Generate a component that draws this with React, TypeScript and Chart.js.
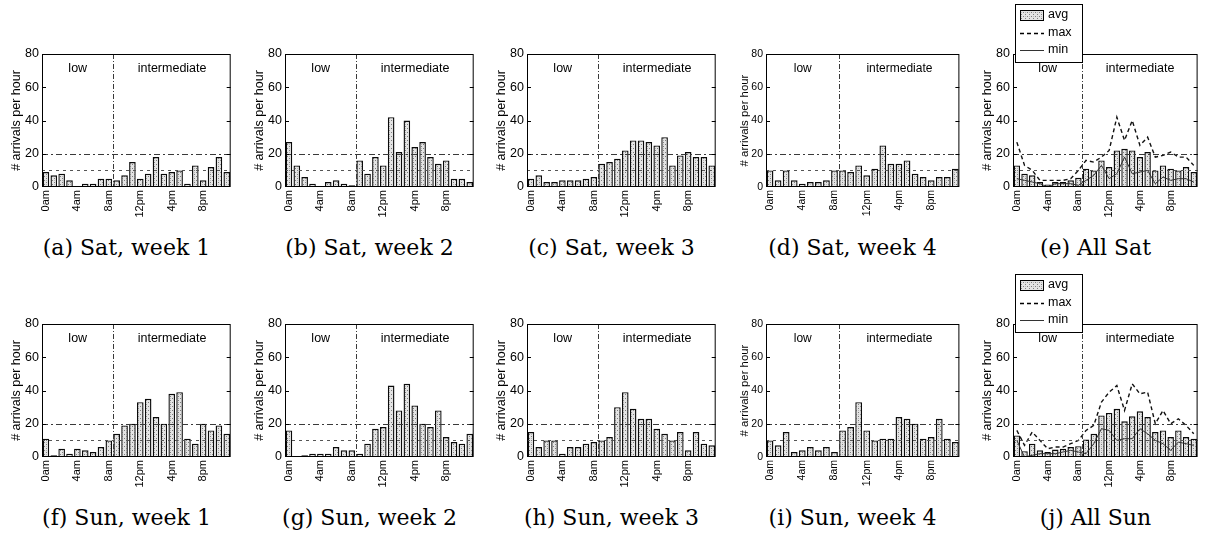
import React, { useEffect, useRef } from 'react';
import { Chart, registerables } from 'chart.js';

Chart.register(...registerables);

// Hour-of-day categories; only every fourth one is labelled on the axis.
const hourLabels = [
  '0am', '1am', '2am', '3am', '4am', '5am', '6am', '7am', '8am', '9am', '10am', '11am',
  '12pm', '1pm', '2pm', '3pm', '4pm', '5pm', '6pm', '7pm', '8pm', '9pm', '10pm', '11pm',
];
const yMax = 80;
const yStep = 20;
const lowThreshold = 10;
const midThreshold = 20;
const lowRegimeHours = 9; // 0am .. 8am belong to the "low" regime
const regimeNames = ['low', 'intermediate'];
const axisTitle = '# arrivals per hour';

// Saturday arrivals per hour, weeks 1-4
const satWeek1 = [9, 7, 8, 4, 0, 2, 2, 5, 5, 4, 7, 15, 5, 8, 18, 8, 9, 10, 2, 13, 4, 12, 18, 9];
const satWeek2 = [27, 13, 6, 2, 0, 3, 4, 2, 1, 16, 8, 18, 13, 42, 21, 40, 24, 27, 18, 14, 16, 5, 5, 3];
const satWeek3 = [5, 7, 3, 3, 4, 4, 4, 5, 6, 14, 15, 17, 22, 28, 28, 27, 25, 30, 13, 19, 21, 18, 18, 13];
const satWeek4 = [10, 4, 10, 4, 2, 3, 3, 4, 10, 10, 9, 13, 7, 11, 25, 14, 14, 16, 8, 6, 4, 6, 6, 11];
// All Saturdays: average bars, max and min curves
const satAvg = [13, 8, 7, 3, 1.5, 3, 3, 4, 5.5, 11, 10, 16, 12, 22, 23, 22, 18, 21, 10, 13, 11, 10, 12, 9];
const satMax = [27, 13, 10, 4, 4, 4, 4, 5, 10, 16, 15, 18, 22, 42, 28, 40, 25, 30, 18, 19, 21, 18, 18, 13];
const satMin = [5, 4, 3, 2, 0, 2, 2, 2, 1, 4, 7, 13, 5, 8, 18, 8, 9, 10, 2, 6, 4, 5, 5, 3];

// Sunday arrivals per hour, weeks 1-4
const sunWeek1 = [11, 1, 5, 2, 5, 4, 3, 6, 10, 14, 19, 20, 33, 35, 24, 20, 38, 39, 11, 8, 20, 16, 19, 14];
const sunWeek2 = [16, 0, 1, 2, 2, 2, 6, 4, 4, 2, 8, 17, 18, 43, 28, 44, 31, 20, 18, 28, 12, 9, 8, 14];
const sunWeek3 = [15, 6, 10, 10, 2, 6, 6, 8, 9, 10, 12, 30, 39, 29, 23, 23, 17, 14, 10, 15, 4, 15, 8, 7];
const sunWeek4 = [10, 7, 15, 3, 4, 6, 4, 6, 3, 16, 18, 33, 16, 10, 11, 11, 24, 23, 20, 11, 12, 23, 11, 9];
// All Sundays: average bars, max and min curves
const sunAvg = [13, 3.5, 8, 4, 3, 4.5, 5, 6, 6.5, 10.5, 14, 25, 26.5, 29, 21.5, 24.5, 27.5, 24, 15, 16, 12, 16, 12, 11];
const sunMax = [16, 7, 15, 10, 5, 6, 6, 8, 10, 16, 19, 33, 39, 43, 28, 44, 38, 39, 20, 28, 20, 23, 19, 14];
const sunMin = [10, 0, 1, 2, 2, 2, 3, 4, 3, 2, 8, 17, 16, 10, 11, 11, 17, 14, 10, 8, 4, 9, 8, 7];

const legendNames = ['avg', 'max', 'min'];

const SANS = "'Liberation Sans', Arial, Helvetica, sans-serif";
const SERIF = "'DejaVu Serif', 'Liberation Serif', serif";

type PanelDef = {
  caption: string;
  row: number;
  axisX: number;
  plotW: number;
  compact?: boolean;
  bars: number[];
  max?: number[];
  min?: number[];
};

const rowTop = [0, 270];
const CANVAS_H = 235;
const PAD_TOP = 54;
const X_AXIS_H = 48;
const Y_AXIS_W = 42;

const panels: PanelDef[] = [
  { caption: '(a) Sat, week 1', row: 0, axisX: 42, plotW: 199, bars: satWeek1 },
  { caption: '(b) Sat, week 2', row: 0, axisX: 285, plotW: 199, bars: satWeek2 },
  { caption: '(c) Sat, week 3', row: 0, axisX: 527, plotW: 199, bars: satWeek3 },
  { caption: '(d) Sat, week 4', row: 0, axisX: 766, plotW: 203, compact: true, bars: satWeek4 },
  { caption: '(e) All Sat', row: 0, axisX: 1013, plotW: 195, bars: satAvg, max: satMax, min: satMin },
  { caption: '(f) Sun, week 1', row: 1, axisX: 42, plotW: 199, bars: sunWeek1 },
  { caption: '(g) Sun, week 2', row: 1, axisX: 285, plotW: 199, bars: sunWeek2 },
  { caption: '(h) Sun, week 3', row: 1, axisX: 527, plotW: 199, bars: sunWeek3 },
  { caption: '(i) Sun, week 4', row: 1, axisX: 766, plotW: 203, compact: true, bars: sunWeek4 },
  { caption: '(j) All Sun', row: 1, axisX: 1013, plotW: 195, bars: sunAvg, max: sunMax, min: sunMin },
];

// Light grey stippled fill used for the bars
function stipple(): CanvasPattern | string {
  const c = document.createElement('canvas');
  c.width = 4;
  c.height = 4;
  const g = c.getContext('2d');
  if (!g) return '#d8d8d8';
  g.fillStyle = '#e4e4e4';
  g.fillRect(0, 0, 4, 4);
  g.fillStyle = '#7e7e7e';
  g.fillRect(0, 0, 1, 1);
  g.fillRect(2, 2, 1, 1);
  g.fillStyle = '#b8b8b8';
  g.fillRect(2, 0, 1, 1);
  return g.createPattern(c, 'repeat') || '#d8d8d8';
}

function decorations(def: PanelDef, fill: CanvasPattern | string) {
  return {
    id: 'decorations',
    afterDatasetsDraw(chart: any) {
      const { ctx, chartArea: a } = chart;
      const x = chart.scales.x;
      const y = chart.scales.y;
      ctx.save();
      ctx.lineWidth = 1;

      const hline = (v: number, dash: number[], color: string) => {
        const py = Math.round(y.getPixelForValue(v)) + 0.5;
        ctx.setLineDash(dash);
        ctx.strokeStyle = color;
        ctx.beginPath();
        ctx.moveTo(a.left, py);
        ctx.lineTo(a.right, py);
        ctx.stroke();
      };
      hline(midThreshold, [6, 3, 2, 3], '#3a3a3a');
      hline(lowThreshold, [3, 4], '#555');

      // regime divider between 8am and 9am
      const xd = Math.round((x.getPixelForValue(lowRegimeHours - 1) + x.getPixelForValue(lowRegimeHours)) / 2) + 0.5;
      ctx.setLineDash([5, 2, 1, 2]);
      ctx.strokeStyle = '#3a3a3a';
      ctx.beginPath();
      ctx.moveTo(xd, a.top);
      ctx.lineTo(xd, a.bottom);
      ctx.stroke();
      ctx.setLineDash([]);

      // regime names
      ctx.fillStyle = '#000';
      ctx.font = `${def.compact ? 12 : 12.5}px ${SANS}`;
      ctx.textAlign = 'center';
      ctx.textBaseline = 'middle';
      ctx.fillText(regimeNames[0], (a.left + xd) / 2, a.top + 15);
      ctx.fillText(regimeNames[1], (xd + a.right) / 2, a.top + 15);

      // axes box
      ctx.strokeStyle = '#000';
      ctx.lineWidth = 1;
      ctx.strokeRect(a.left + 0.5, a.top + 0.5, a.right - a.left - 1, a.bottom - a.top - 1);

      // inward tick marks
      for (let v = yStep; v < yMax; v += yStep) {
        const py = Math.round(y.getPixelForValue(v)) + 0.5;
        ctx.beginPath();
        ctx.moveTo(a.left, py);
        ctx.lineTo(a.left + 4, py);
        ctx.moveTo(a.right, py);
        ctx.lineTo(a.right - 4, py);
        ctx.stroke();
      }
      ctx.restore();
    },
    afterDraw(chart: any) {
      if (!def.max) return;
      const { ctx, chartArea: a } = chart;
      ctx.save();
      const lx = a.left + 2;
      const ly = a.top - 50;
      const lw = 67;
      const lh = 58;
      ctx.fillStyle = '#fff';
      ctx.fillRect(lx, ly, lw, lh);
      ctx.strokeStyle = '#000';
      ctx.lineWidth = 1;
      ctx.strokeRect(lx + 0.5, ly + 0.5, lw, lh);
      const rows = [ly + 11, ly + 29, ly + 46];
      // avg swatch
      ctx.fillStyle = fill as any;
      ctx.fillRect(lx + 5, rows[0] - 5, 23, 10);
      ctx.strokeRect(lx + 5.5, rows[0] - 4.5, 23, 10);
      // max swatch
      ctx.lineWidth = 1.4;
      ctx.setLineDash([4, 3]);
      ctx.beginPath();
      ctx.moveTo(lx + 5, rows[1] + 0.5);
      ctx.lineTo(lx + 29, rows[1] + 0.5);
      ctx.stroke();
      // min swatch
      ctx.setLineDash([]);
      ctx.lineWidth = 1;
      ctx.strokeStyle = '#333';
      ctx.beginPath();
      ctx.moveTo(lx + 5, rows[2] + 0.5);
      ctx.lineTo(lx + 29, rows[2] + 0.5);
      ctx.stroke();
      ctx.fillStyle = '#000';
      ctx.font = `12.5px ${SANS}`;
      ctx.textAlign = 'left';
      ctx.textBaseline = 'middle';
      legendNames.forEach((n, i) => ctx.fillText(n, lx + 33, rows[i]));
      ctx.restore();
    },
  };
}

function Panel({ def }: { def: PanelDef }) {
  const ref = useRef<HTMLCanvasElement>(null);
  const left = def.axisX - Y_AXIS_W;
  const width = Y_AXIS_W + def.plotW + 2;
  const top = rowTop[def.row];

  useEffect(() => {
    const canvas = ref.current;
    if (!canvas) return;
    const fill = stipple();
    const datasets: any[] = [
      {
        type: 'bar',
        label: legendNames[0],
        data: def.bars,
        backgroundColor: fill,
        borderColor: '#0a0a0a',
        borderWidth: 1.4,
        categoryPercentage: 1,
        barPercentage: 0.84,
        order: 2,
      },
    ];
    if (def.max) {
      datasets.push({
        type: 'line',
        label: legendNames[1],
        data: def.max,
        borderColor: '#111',
        borderWidth: 1.4,
        borderDash: [4, 3],
        pointRadius: 0,
        fill: false,
        tension: 0,
        order: 1,
      });
    }
    if (def.min) {
      datasets.push({
        type: 'line',
        label: legendNames[2],
        data: def.min,
        borderColor: '#333',
        borderWidth: 1,
        pointRadius: 0,
        fill: false,
        tension: 0,
        order: 0,
      });
    }
    const tickSize = def.compact ? 10.5 : 12.5;
    const titleSize = def.compact ? 11.4 : 12.5;
    const titleCenter = def.compact ? 21 : 17;
    const chart = new Chart(canvas, {
      type: 'bar',
      data: { labels: hourLabels, datasets },
      options: {
        responsive: false,
        animation: false,
        devicePixelRatio: 1,
        layout: { padding: { top: PAD_TOP, right: 2, left: 0, bottom: 0 } },
        plugins: { legend: { display: false }, tooltip: { enabled: false } },
        scales: {
          x: {
            type: 'category',
            offset: true,
            grid: { display: false, drawTicks: false },
            border: { display: false },
            ticks: {
              autoSkip: false,
              minRotation: 90,
              maxRotation: 90,
              padding: 3,
              color: '#000',
              font: { family: SANS, size: def.compact ? 10.5 : 11 },
              callback: (_v: any, i: number) => (i % 4 === 0 ? hourLabels[i] : ''),
            },
            afterFit: (s: any) => {
              s.height = X_AXIS_H;
            },
          },
          y: {
            min: 0,
            max: yMax,
            grid: { display: false, drawTicks: false },
            border: { display: false },
            ticks: {
              stepSize: yStep,
              padding: 3,
              color: '#000',
              font: { family: SANS, size: tickSize },
            },
            title: {
              display: true,
              text: axisTitle,
              color: '#000',
              font: { family: SANS, size: titleSize, lineHeight: 1.2 },
              padding: { top: titleCenter - (titleSize * 1.2) / 2, bottom: 0 },
            },
            afterFit: (s: any) => {
              s.width = Y_AXIS_W;
            },
          },
        },
      } as any,
      plugins: [decorations(def, fill) as any],
    });
    return () => chart.destroy();
  }, []);

  return (
    <canvas
      ref={ref}
      width={width}
      height={CANVAS_H}
      style={{ position: 'absolute', left, top, width, height: CANVAS_H }}
    />
  );
}

function Caption({ def }: { def: PanelDef }) {
  const center = def.axisX + def.plotW / 2 - 15;
  return (
    <div
      style={{
        position: 'absolute',
        left: center - 150,
        width: 300,
        top: rowTop[def.row] + 237,
        textAlign: 'center',
        fontFamily: SERIF,
        fontSize: 22,
        lineHeight: '22px',
        color: '#000',
        whiteSpace: 'nowrap',
      }}
    >
      {def.caption}
    </div>
  );
}

export default function App() {
  return (
    <div
      style={{
        position: 'fixed',
        left: 0,
        top: 0,
        width: 1213,
        height: 540,
        background: '#fff',
        overflow: 'hidden',
      }}
    >
      {panels.map((p) => (
        <Panel key={p.caption} def={p} />
      ))}
      {panels.map((p) => (
        <Caption key={'c' + p.caption} def={p} />
      ))}
    </div>
  );
}
